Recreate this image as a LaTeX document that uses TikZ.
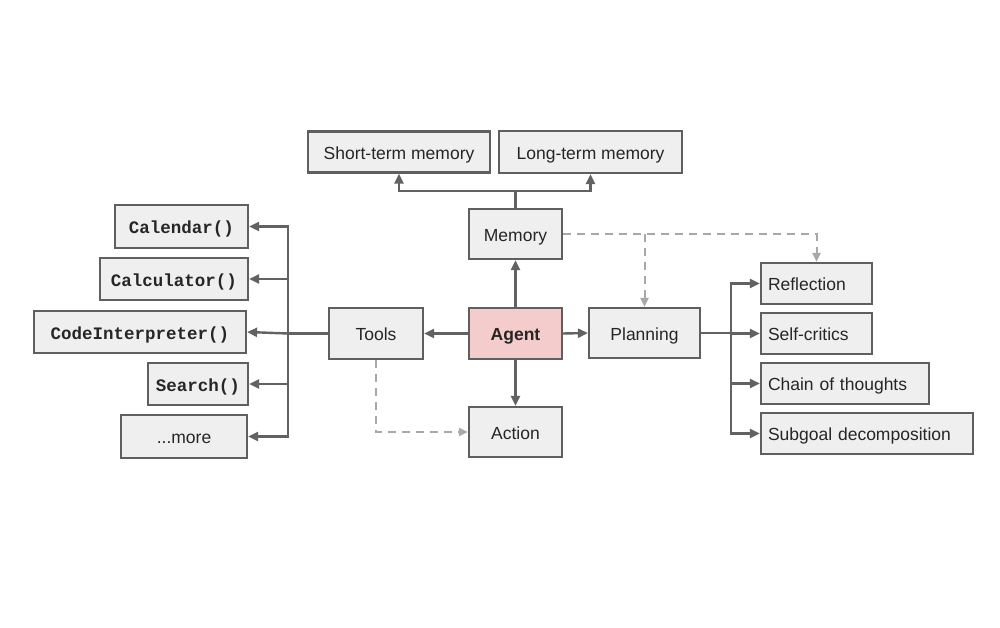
\documentclass[tikz,border=0pt]{standalone}
\usepackage{fontspec}
\setmainfont{Liberation Sans}
\setmonofont{Liberation Mono}
\usetikzlibrary{arrows.meta}
\definecolor{boxfill}{HTML}{EFEFEF}
\definecolor{boxline}{HTML}{5F5F5F}
\definecolor{arrcol}{HTML}{626262}
\definecolor{agentfill}{HTML}{F4CCCC}
\definecolor{dashcol}{HTML}{A8A8A8}
\begin{document}
\begin{tikzpicture}[x=1pt,y=-1pt,
  box/.style={draw=boxline,fill=boxfill,line width=2.2pt,inner sep=0pt,
    text height=14.5pt,text depth=0pt,
    font=\fontsize{17.5}{20}\selectfont,text=black!85},
  codebox/.style={box,font=\fontsize{17.5}{20}\selectfont\ttfamily\bfseries},
  leftbox/.style={box,align=left,text width=#1,inner xsep=7pt},
  arr/.style={draw=arrcol,line width=2.4pt,-{Triangle[length=10pt,width=9pt]}},
  line/.style={draw=arrcol,line width=2.4pt},
  darr/.style={draw=dashcol,line width=2pt,dash pattern=on 8pt off 6pt,-{Triangle[length=9pt,width=8pt]}}]
\path[use as bounding box,fill=white] (0,0) rectangle (1000,628);
% centre column
\node[box,minimum width=182pt,minimum height=41pt] (stm) at (399,152) {Short-term memory};
\node[box,minimum width=183pt,minimum height=42pt] (ltm) at (590.5,152) {Long-term memory};
\node[box,minimum width=93pt,minimum height=50pt] (mem) at (515.5,234) {Memory};
\node[box,fill=agentfill,minimum width=93pt,minimum height=51pt,font=\fontsize{17.5}{20}\selectfont\bfseries] (agent) at (515.5,333.5) {Agent};
\node[box,minimum width=94pt,minimum height=51pt] (tools) at (376,333.5) {Tools};
\node[box,minimum width=93pt,minimum height=50pt] (action) at (515.5,432) {Action};
\node[box,minimum width=111pt,minimum height=50pt] (plan) at (644.5,333) {Planning};
% tools
\node[codebox,minimum width=133pt,minimum height=43pt] (cal) at (181.5,226.5) {Calendar()};
\node[codebox,minimum width=148pt,minimum height=42pt] (calc) at (174,279) {Calculator()};
\node[codebox,minimum width=212pt,minimum height=42pt] (code) at (140,332) {CodeInterpreter()};
\node[codebox,minimum width=100pt,minimum height=42pt] (search) at (198,384) {Search()};
\node[box,minimum width=126pt,minimum height=43pt] (more) at (184,436.5) {...more};
% planning
\node[leftbox=97pt,minimum height=41pt] (refl) at (816.5,283.5) {Reflection};
\node[leftbox=97pt,minimum height=41pt] (self) at (816.5,333.5) {Self-critics};
\node[leftbox=154pt,minimum height=41pt] (chain) at (845,383.5) {Chain of thoughts};
\node[leftbox=198pt,minimum height=41pt] (sub) at (867,433.5) {Subgoal decomposition};
% memory branches
\coordinate (mj) at (515.5,191);
\draw[line] (mem.north) -- (mj);
\draw[arr] (mj) -| (stm.south);
\draw[arr] (mj) -| (ltm.south);
% agent arrows
\draw[arr] (agent.north) -- (mem.south);
\draw[arr] (agent.south) -- (action.north);
\draw[arr] (agent.west) -- (tools.east);
\draw[arr] (agent.east) -- (plan.west);
% tools bus
\coordinate (tb) at (288,333.5);
\draw[line] (tools.west) -- (tb);
\draw[arr] (tb) |- (cal.east);
\draw[arr] (tb) |- (calc.east);
\draw[arr] (tb) -- (code.east);
\draw[arr] (tb) |- (search.east);
\draw[arr] (tb) |- (more.east);
% planning bus
\coordinate (pb) at (731,333);
\draw[line] (plan.east) -- (pb);
\draw[arr] (pb) |- (refl.west);
\draw[arr] (pb) |- (self.west);
\draw[arr] (pb) |- (chain.west);
\draw[arr] (pb) |- (sub.west);
% dashed
\coordinate (db) at (plan.north |- mem.east);
\draw[darr] (mem.east) -| (refl.north);
\draw[darr] (db) -- (plan.north);
\draw[darr] (tools.south) |- (action.west);
\end{tikzpicture}
\end{document}
